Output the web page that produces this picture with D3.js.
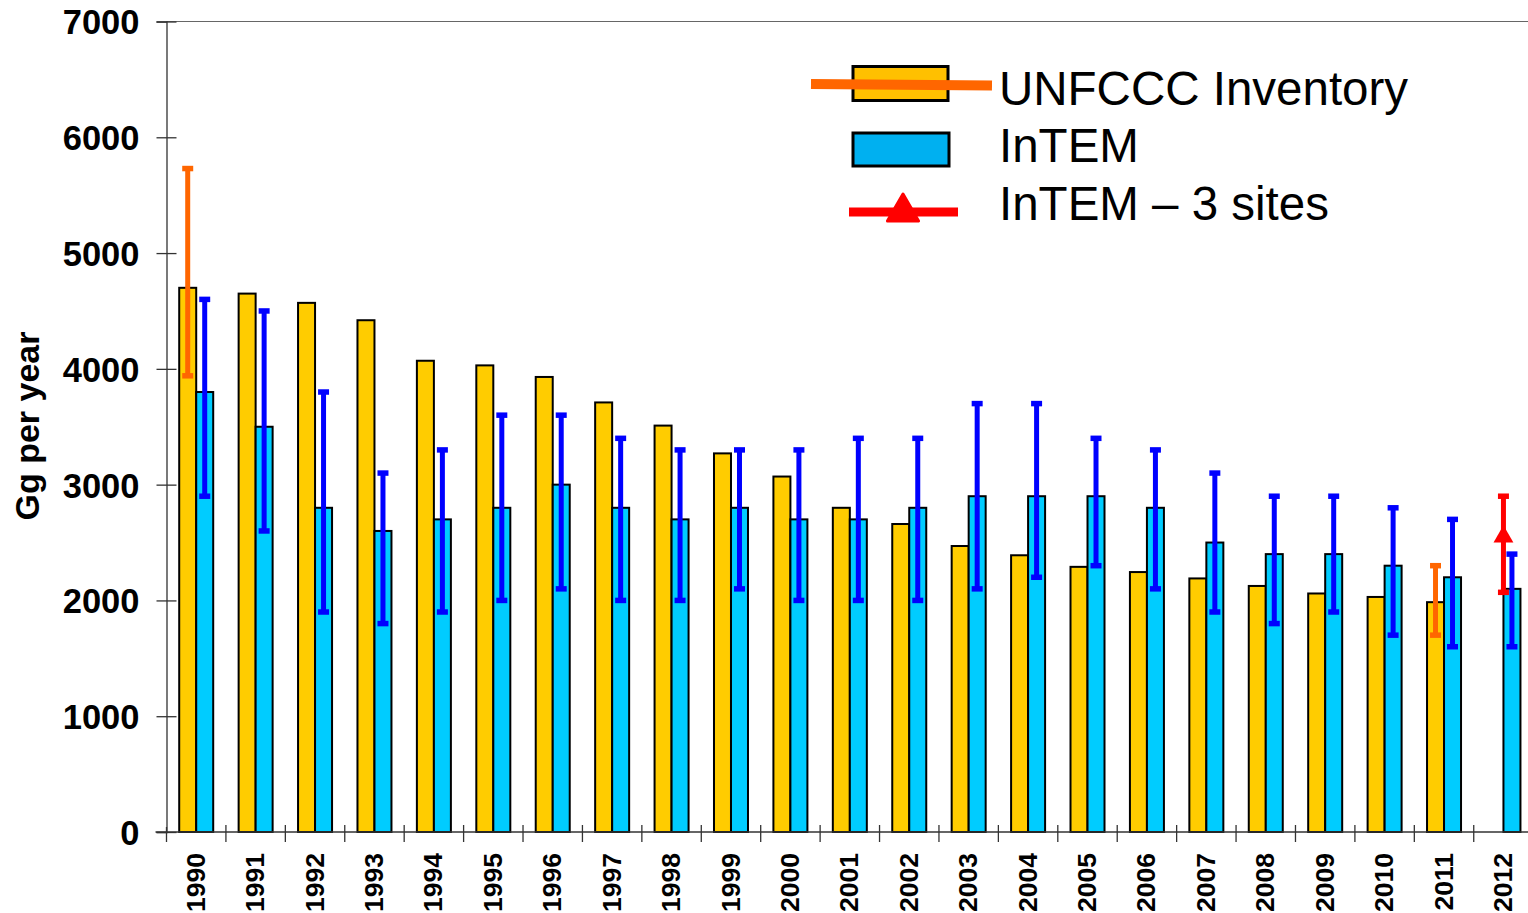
<!DOCTYPE html>
<html>
<head>
<meta charset="utf-8">
<script src="https://cdn.jsdelivr.net/npm/d3@7"></script>
<style>
  html, body { margin: 0; padding: 0; background: #fff; }
  svg { display: block; font-family: "Liberation Sans", Arial, sans-serif; }
</style>
</head>
<body>
<svg id="chart" width="1528" height="913"></svg>
<script>
// ---- Data ----
const years = ["1990","1991","1992","1993","1994","1995","1996","1997","1998","1999","2000","2001","2002","2003","2004","2005","2006","2007","2008","2009","2010","2011","2012"];
const unfccc = [4700,4650,4570,4420,4070,4030,3930,3710,3510,3270,3070,2800,2660,2470,2390,2290,2245,2190,2125,2060,2030,1985,null];
const intem  = [3800,3500,2800,2600,2700,2800,3000,2800,2700,2800,2700,2700,2800,2900,2900,2900,2800,2500,2400,2400,2300,2200,2100];
const intemLow  = [2900,2600,1900,1800,1900,2000,2100,2000,2000,2100,2000,2000,2000,2100,2200,2300,2100,1900,1800,1900,1700,1600,1600];
const intemHigh = [4600,4500,3800,3100,3300,3600,3600,3400,3300,3300,3300,3400,3400,3700,3700,3400,3300,3100,2900,2900,2800,2700,2400];
// UNFCCC uncertainty ranges (only reported for some years)
const unfcccErr = [
  {year: "1990", low: 3940, high: 5730},
  {year: "2011", low: 1700, high: 2300}
];
// InTEM - 3 sites
const intem3 = [{year: "2012", value: 2550, low: 2070, high: 2900}];
const yTicks = [0,1000,2000,3000,4000,5000,6000,7000];
const legendLabels = ["UNFCCC Inventory", "InTEM", "InTEM \u2013 3 sites"];
const yTitle = "Gg per year";

// ---- Layout ----
const svg = d3.select("#chart");
const plotLeft = 166.5, plotBottom = 832, plotTop = 21.5;
const band = 59.42;
const x = d3.scaleBand().domain(years).range([plotLeft, plotLeft + band * years.length]).padding(0);
const y = d3.scaleLinear().domain([0, 7000]).range([plotBottom, plotTop]);
const barW = 17;

// top border
svg.append("line").attr("x1", plotLeft).attr("x2", 1528).attr("y1", y(7000)).attr("y2", y(7000))
  .attr("stroke", "#666").attr("stroke-width", 1.2);

// Y axis
const yAxis = svg.append("g").attr("transform", `translate(${plotLeft},0)`)
  .call(d3.axisLeft(y).tickValues(yTicks).tickSize(10).tickPadding(16).tickFormat(d3.format("d")));
yAxis.select(".domain").attr("stroke", "#333").attr("stroke-width", 1.3);
yAxis.selectAll(".tick line").attr("stroke", "#333").attr("stroke-width", 1.3).attr("x2", 10).attr("x1", -10);
yAxis.selectAll(".tick text").attr("font-size", 34.5).attr("font-weight", "bold").attr("fill", "#000")
  .attr("font-family", "Liberation Sans, Arial, sans-serif").attr("x", -27).attr("dy", "0.36em");

// Bars: UNFCCC
const cx = d => x(d) + x.bandwidth() / 2;
svg.append("g").selectAll("rect").data(years.map((yr, i) => ({yr, v: unfccc[i]})).filter(d => d.v != null))
  .join("rect")
  .attr("x", d => cx(d.yr) - barW).attr("width", barW)
  .attr("y", d => y(d.v)).attr("height", d => y(0) - y(d.v))
  .attr("fill", "#FFCC00").attr("stroke", "#000").attr("stroke-width", 2);

// Bars: InTEM
svg.append("g").selectAll("rect").data(years.map((yr, i) => ({yr, v: intem[i]})))
  .join("rect")
  .attr("x", d => cx(d.yr)).attr("width", barW)
  .attr("y", d => y(d.v)).attr("height", d => y(0) - y(d.v))
  .attr("fill", "#00CCFF").attr("stroke", "#000").attr("stroke-width", 2);

// X axis
const xAxisG = svg.append("g");
xAxisG.append("line").attr("x1", plotLeft - 11).attr("x2", 1528).attr("y1", plotBottom).attr("y2", plotBottom)
  .attr("stroke", "#333").attr("stroke-width", 1.3);
xAxisG.selectAll("line.tk").data(years).join("line").attr("class", "tk")
  .attr("x1", d => x(d)).attr("x2", d => x(d))
  .attr("y1", d => d === years[0] ? plotBottom - 5 : plotBottom - 7).attr("y2", plotBottom + 10)
  .attr("stroke", "#333").attr("stroke-width", 1.3);
xAxisG.selectAll("text").data(years).join("text")
  .attr("transform", d => `translate(${cx(d) - 1},${plotBottom + 21}) rotate(-90)`)
  .attr("text-anchor", "end").attr("dy", "0.36em")
  .attr("font-size", 26.5).attr("font-weight", "bold").attr("fill", "#000")
  .text(d => d);

// Error bars helper
function errorBars(data, xf, color) {
  const g = svg.append("g");
  g.selectAll("line.v").data(data).join("line").attr("class", "v")
    .attr("x1", xf).attr("x2", xf).attr("y1", d => y(d.low)).attr("y2", d => y(d.high))
    .attr("stroke", color).attr("stroke-width", 5);
  ["low", "high"].forEach(k => {
    g.selectAll("line." + k).data(data).join("line").attr("class", k)
      .attr("x1", d => xf(d) - 5.5).attr("x2", d => xf(d) + 5.5)
      .attr("y1", d => y(d[k])).attr("y2", d => y(d[k]))
      .attr("stroke", color).attr("stroke-width", 5.5);
  });
  return g;
}
errorBars(years.map((yr, i) => ({yr, low: intemLow[i], high: intemHigh[i]})), d => cx(d.yr) + barW / 2, "#0000FF");
errorBars(unfcccErr, d => cx(d.year) - barW / 2, "#FF6600");
const rg = errorBars(intem3, d => cx(d.year), "#FF0000");
rg.selectAll("path").data(intem3).join("path")
  .attr("d", d3.symbol(d3.symbolTriangle, 170))
  .attr("transform", d => `translate(${cx(d.year)},${y(d.value)})`)
  .attr("fill", "#FF0000");

// Y title
svg.append("text").attr("transform", "translate(27,426) rotate(-90)")
  .attr("text-anchor", "middle").attr("dy", "0.36em")
  .attr("font-size", 34).attr("font-weight", "bold").attr("fill", "#000").text(yTitle);

// Legend
const lg = svg.append("g");
const rowY = [84, 149, 212];
lg.append("rect").attr("x", 853).attr("y", 66.5).attr("width", 95).attr("height", 34)
  .attr("fill", "#FFC000").attr("stroke", "#000").attr("stroke-width", 3);
lg.append("line").attr("x1", 811).attr("x2", 992).attr("y1", rowY[0]).attr("y2", rowY[0] + 1.5)
  .attr("stroke", "#FF6600").attr("stroke-width", 10);
lg.append("rect").attr("x", 853).attr("y", 133).attr("width", 96).attr("height", 33)
  .attr("fill", "#00B0F0").attr("stroke", "#000").attr("stroke-width", 3);
lg.append("line").attr("x1", 849).attr("x2", 958).attr("y1", rowY[2]).attr("y2", rowY[2])
  .attr("stroke", "#FF0000").attr("stroke-width", 9);
lg.append("path").attr("d", d3.symbol(d3.symbolTriangle, 420))
  .attr("transform", `translate(903,${rowY[2]})`).attr("fill", "#FF0000")
  .attr("stroke", "#FF0000").attr("stroke-width", 3).attr("stroke-linejoin", "round");
lg.selectAll("text").data(legendLabels).join("text")
  .attr("x", 999).attr("y", (d, i) => [105, 161.5, 219.5][i])
  .attr("font-size", 47.5).attr("fill", "#000").text(d => d);
</script>
</body>
</html>
